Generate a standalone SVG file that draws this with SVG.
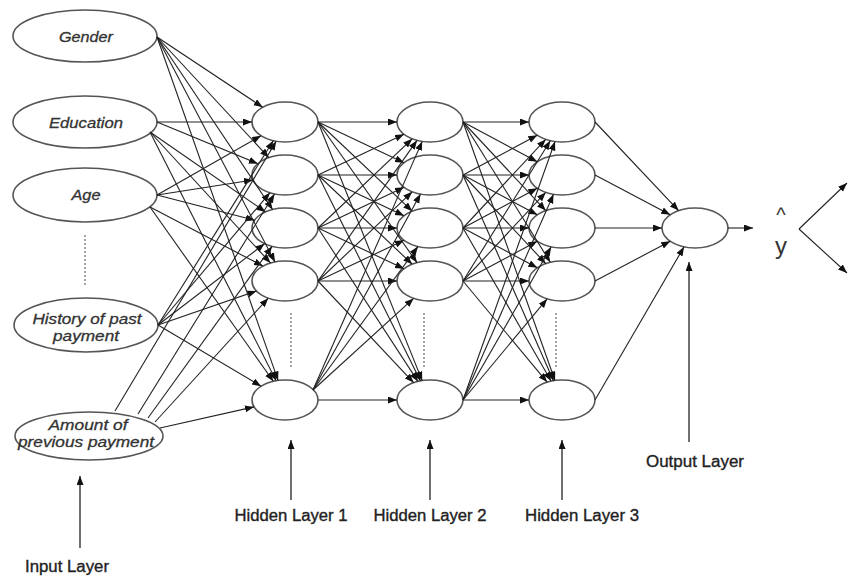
<svg xmlns="http://www.w3.org/2000/svg" width="858" height="578" viewBox="0 0 858 578">
<style>
.n{fill:#fff;stroke:#555;stroke-width:1.6}
.c line{stroke:#222;stroke-width:1.1;marker-end:url(#ah)}
.dot{stroke:#666;stroke-width:1.2;stroke-dasharray:2,2}
.it{font-family:"Liberation Sans",Arial,sans-serif;font-style:italic;font-size:14.5px;fill:#333;stroke:#333;stroke-width:0.3;text-anchor:middle}
.lb{font-family:"Liberation Sans Narrow","Liberation Sans",Arial,sans-serif;font-size:16px;fill:#222;stroke:#222;stroke-width:0.35;text-anchor:middle}
.ar{stroke:#222;stroke-width:1.3;marker-end:url(#ah)}
</style>
<defs>
<marker id="ah" markerUnits="userSpaceOnUse" markerWidth="10" markerHeight="8" refX="9" refY="3.5" orient="auto">
<path d="M0,0 L9,3.5 L0,7 z" fill="#111"/>
</marker>
</defs>
<rect width="858" height="578" fill="#fff"/>

<g id="input-gender"><ellipse class="n" cx="85" cy="36" rx="72" ry="26"/><text class="it" x="86" y="42" textLength="54" lengthAdjust="spacingAndGlyphs">Gender</text></g>
<g id="input-education"><ellipse class="n" cx="85" cy="122" rx="72" ry="26"/><text class="it" x="86" y="128" textLength="74" lengthAdjust="spacingAndGlyphs">Education</text></g>
<g id="input-age"><ellipse class="n" cx="85" cy="195" rx="72" ry="27"/><text class="it" x="86" y="200" font-size="15.5" textLength="29" lengthAdjust="spacingAndGlyphs">Age</text></g>
<line class="dot" x1="85" y1="235" x2="85" y2="287"/>
<g id="input-history"><ellipse class="n" cx="86" cy="325" rx="72" ry="27"/><text class="it" x="87" y="324" textLength="109" lengthAdjust="spacingAndGlyphs">History of past</text><text class="it" x="86" y="341" textLength="66" lengthAdjust="spacingAndGlyphs">payment</text></g>
<g id="input-amount"><ellipse class="n" cx="89" cy="436" rx="74" ry="24"/><text class="it" x="88" y="430" textLength="79" lengthAdjust="spacingAndGlyphs">Amount of</text><text class="it" x="86" y="447" textLength="136" lengthAdjust="spacingAndGlyphs">previous payment</text></g>

<g id="h1-1"><ellipse class="n" cx="285" cy="122" rx="33" ry="20"/></g>
<g id="h1-2"><ellipse class="n" cx="285" cy="175" rx="33" ry="20"/></g>
<g id="h1-3"><ellipse class="n" cx="285" cy="228" rx="33" ry="20"/></g>
<g id="h1-4"><ellipse class="n" cx="285" cy="281" rx="33" ry="20"/></g>
<g id="h1-5"><ellipse class="n" cx="285" cy="400" rx="33" ry="20"/></g>
<line class="dot" x1="291" y1="313" x2="291" y2="368"/>

<g id="h2-1"><ellipse class="n" cx="430" cy="122" rx="33" ry="20"/></g>
<g id="h2-2"><ellipse class="n" cx="430" cy="175" rx="33" ry="20"/></g>
<g id="h2-3"><ellipse class="n" cx="430" cy="228" rx="33" ry="20"/></g>
<g id="h2-4"><ellipse class="n" cx="430" cy="281" rx="33" ry="20"/></g>
<g id="h2-5"><ellipse class="n" cx="430" cy="400" rx="33" ry="20"/></g>
<line class="dot" x1="424" y1="313" x2="424" y2="368"/>

<g id="h3-1"><ellipse class="n" cx="562" cy="122" rx="33" ry="20"/></g>
<g id="h3-2"><ellipse class="n" cx="562" cy="175" rx="33" ry="20"/></g>
<g id="h3-3"><ellipse class="n" cx="562" cy="228" rx="33" ry="20"/></g>
<g id="h3-4"><ellipse class="n" cx="562" cy="281" rx="33" ry="20"/></g>
<g id="h3-5"><ellipse class="n" cx="562" cy="400" rx="33" ry="20"/></g>
<line class="dot" x1="556" y1="313" x2="556" y2="368"/>

<g id="output"><ellipse class="n" cx="695" cy="228" rx="33" ry="20"/></g>

<g id="connectors" class="c">
<line x1="157" y1="37" x2="262.7" y2="107.2"/>
<line x1="157" y1="37" x2="268.8" y2="157.6"/>
<line x1="157" y1="37" x2="272.6" y2="209.5"/>
<line x1="157" y1="37" x2="275" y2="261.9"/>
<line x1="157" y1="37" x2="278.1" y2="380.4"/>
<line x1="157" y1="122" x2="252" y2="122"/>
<line x1="157" y1="122" x2="257.8" y2="163.7"/>
<line x1="150" y1="132" x2="265.5" y2="211.9"/>
<line x1="150" y1="132" x2="270.5" y2="263"/>
<line x1="150" y1="132" x2="276.1" y2="380.7"/>
<line x1="157" y1="195" x2="261" y2="135.7"/>
<line x1="157" y1="195" x2="253" y2="180"/>
<line x1="157" y1="195" x2="254.6" y2="220.2"/>
<line x1="150" y1="207" x2="262.9" y2="266.1"/>
<line x1="150" y1="207" x2="273.3" y2="381.3"/>
<line x1="158" y1="325" x2="273.3" y2="140.7"/>
<line x1="158" y1="325" x2="269.9" y2="192.8"/>
<line x1="158" y1="325" x2="264.5" y2="243.7"/>
<line x1="158" y1="325" x2="256.5" y2="291"/>
<line x1="158" y1="325" x2="261.1" y2="386.2"/>
<line x1="115" y1="411" x2="276.2" y2="141.3"/>
<line x1="138" y1="414" x2="274.5" y2="194"/>
<line x1="148" y1="418" x2="272" y2="246.4"/>
<line x1="155" y1="422" x2="268.2" y2="298.2"/>
<line x1="160" y1="428" x2="254" y2="406.9"/>

<line x1="318" y1="122" x2="397" y2="122"/>
<line x1="318" y1="122" x2="404" y2="162.7"/>
<line x1="318" y1="122" x2="412.2" y2="211.2"/>
<line x1="318" y1="122" x2="417" y2="262.6"/>
<line x1="318" y1="122" x2="422.2" y2="380.6"/>
<line x1="318" y1="175" x2="404" y2="134.3"/>
<line x1="318" y1="175" x2="397" y2="175"/>
<line x1="318" y1="175" x2="404" y2="215.7"/>
<line x1="318" y1="175" x2="412.2" y2="264.2"/>
<line x1="318" y1="175" x2="420.5" y2="380.9"/>
<line x1="318" y1="228" x2="412.2" y2="138.8"/>
<line x1="318" y1="228" x2="404" y2="187.3"/>
<line x1="318" y1="228" x2="397" y2="228"/>
<line x1="318" y1="228" x2="404" y2="268.7"/>
<line x1="318" y1="228" x2="417.9" y2="381.4"/>
<line x1="318" y1="281" x2="417" y2="140.4"/>
<line x1="318" y1="281" x2="412.2" y2="191.8"/>
<line x1="318" y1="281" x2="404" y2="240.3"/>
<line x1="318" y1="281" x2="397" y2="281"/>
<line x1="318" y1="281" x2="413.6" y2="382.6"/>
<line x1="313" y1="390" x2="422.2" y2="141.4"/>
<line x1="313" y1="390" x2="420.5" y2="194.1"/>
<line x1="313" y1="390" x2="417.9" y2="246.6"/>
<line x1="313" y1="390" x2="413.6" y2="298.4"/>
<line x1="318" y1="400" x2="397" y2="400"/>

<line x1="463" y1="122" x2="529" y2="122"/>
<line x1="463" y1="122" x2="537.3" y2="161.8"/>
<line x1="463" y1="122" x2="545.7" y2="210.6"/>
<line x1="463" y1="122" x2="550.3" y2="262.3"/>
<line x1="463" y1="122" x2="555" y2="380.5"/>
<line x1="463" y1="175" x2="537.3" y2="135.2"/>
<line x1="463" y1="175" x2="529" y2="175"/>
<line x1="463" y1="175" x2="537.3" y2="214.8"/>
<line x1="463" y1="175" x2="545.7" y2="263.6"/>
<line x1="463" y1="175" x2="553.5" y2="380.7"/>
<line x1="463" y1="228" x2="545.7" y2="139.4"/>
<line x1="463" y1="228" x2="537.3" y2="188.2"/>
<line x1="463" y1="228" x2="529" y2="228"/>
<line x1="463" y1="228" x2="537.3" y2="267.8"/>
<line x1="463" y1="228" x2="551.1" y2="381.1"/>
<line x1="463" y1="281" x2="550.3" y2="140.7"/>
<line x1="463" y1="281" x2="545.7" y2="192.4"/>
<line x1="463" y1="281" x2="537.3" y2="241.2"/>
<line x1="463" y1="281" x2="529" y2="281"/>
<line x1="463" y1="281" x2="547.1" y2="382.1"/>
<line x1="463" y1="400" x2="555" y2="141.5"/>
<line x1="463" y1="400" x2="553.5" y2="194.3"/>
<line x1="463" y1="400" x2="551.1" y2="246.9"/>
<line x1="463" y1="400" x2="547.1" y2="298.9"/>
<line x1="463" y1="400" x2="529" y2="400"/>

<line x1="595" y1="122" x2="678.6" y2="210.6"/>
<line x1="595" y1="175" x2="670.2" y2="214.8"/>
<line x1="595" y1="228" x2="662" y2="228"/>
<line x1="595" y1="281" x2="670.2" y2="241.2"/>
<line x1="595" y1="400" x2="684" y2="246.9"/>

<line x1="728" y1="228" x2="753" y2="228"/>
<line x1="799" y1="229" x2="847" y2="183"/>
<line x1="799" y1="229" x2="847" y2="273"/>
</g>

<g id="y-hat">
<text x="781" y="222" font-family="Liberation Sans,Arial,sans-serif" font-size="20" fill="#333" text-anchor="middle">^</text>
<text x="781" y="254" font-family="Liberation Sans,Arial,sans-serif" font-size="24" fill="#333" text-anchor="middle">y</text>
</g>

<g id="labels">
<line class="ar" x1="80" y1="548" x2="80" y2="476"/>
<text class="lb" x="67" y="572" textLength="84" lengthAdjust="spacingAndGlyphs">Input Layer</text>
<line class="ar" x1="291" y1="500" x2="291" y2="440"/>
<text class="lb" x="291" y="521" textLength="113" lengthAdjust="spacingAndGlyphs">Hidden Layer 1</text>
<line class="ar" x1="430" y1="500" x2="430" y2="440"/>
<text class="lb" x="430" y="521" textLength="113" lengthAdjust="spacingAndGlyphs">Hidden Layer 2</text>
<line class="ar" x1="562" y1="500" x2="562" y2="440"/>
<text class="lb" x="582" y="521" textLength="114" lengthAdjust="spacingAndGlyphs">Hidden Layer 3</text>
<line class="ar" x1="689" y1="442" x2="689" y2="262"/>
<text class="lb" x="695" y="467" textLength="98" lengthAdjust="spacingAndGlyphs">Output Layer</text>
</g>
</svg>
